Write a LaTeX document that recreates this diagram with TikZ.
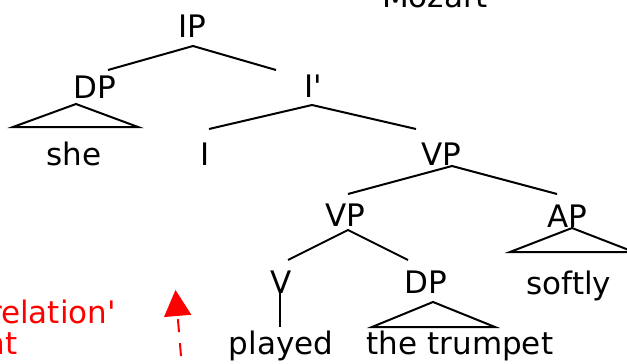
\documentclass[tikz,border=0pt]{standalone}
\usepackage{fontspec}
\setmainfont{DejaVu Sans}
\usetikzlibrary{arrows.meta}

\begin{document}
\begin{tikzpicture}[x=1pt,y=-1pt,
	cat/.style={anchor=base,inner sep=0pt,text height=22pt,text depth=0pt,font=\fontsize{31}{36}\selectfont},
	branch/.style={line width=2pt},
	remark/.style={cat,anchor=base east,text=red}]
	\useasboundingbox (0,0) rectangle (627,364);
	\node[cat] (mozart) at (435,7){Mozart};
	\node[cat] (IP) at (192,37){IP};
	\node[cat] (DP) at (95,98){DP};
	\node[cat] (Ibar) at (313,97){I\textquotesingle};
	\node[cat] (she) at (74,165){she};
	\node[cat] (I) at (205,165){I};
	\node[cat] (VP) at (441,165){VP};
	\node[cat] (VPlow) at (345,226){VP};
	\node[cat] (AP) at (567,227){AP};
	\node[cat] (V) at (281,293){V};
	\node[cat] (DPobj) at (426,293){DP};
	\node[cat] (softly) at (569,294){softly};
	\node[cat] (played) at (281,354){played};
	\node[cat] (trumpet) at (460,354){the trumpet};
	\node[remark] (relation) at (116,323){relation\textquotesingle};
	\node[remark] (nt) at (18,354){nt};
	\draw[branch] ([shift={(-37,-27)}]Ibar.base)--([shift={(1,9)}]IP.base)--([shift={(13,-28)}]DP.base);
	\draw[branch] ([shift={(-19,6)}]DP.base)--+(-63,23)--+(62,23)--cycle;
	\draw[branch] ([shift={(4,-36)}]I.base)--([shift={(-1,8)}]Ibar.base)--([shift={(-25,-36)}]VP.base);
	\draw[branch] ([shift={(3,-32)}]VPlow.base)--([shift={(11,1)}]VP.base)--([shift={(-10,-33)}]AP.base);
	\draw[branch] ([shift={(5,1)}]AP.base)--+(-62,24)--+(62,24)--cycle;
	\draw[branch] ([shift={(7,-33)}]V.base)--([shift={(3,4)}]VPlow.base)--([shift={(-18,-33)}]DPobj.base);
	\draw[branch] ([shift={(-1,-3)}]V.base)--([shift={(-1,-27)}]played.base);
	\draw[branch] ([shift={(7,9)}]DPobj.base)--+(-61,25)--+(62,25)--cycle;
	\coordinate (foot) at (183,380);
	\coordinate (tip) at (175.5,290);
	\draw[red,line width=2pt,dash pattern=on 13pt off 11pt,-{Triangle[length=26pt,width=27pt]}] (foot)--(tip);
\end{tikzpicture}
\end{document}
